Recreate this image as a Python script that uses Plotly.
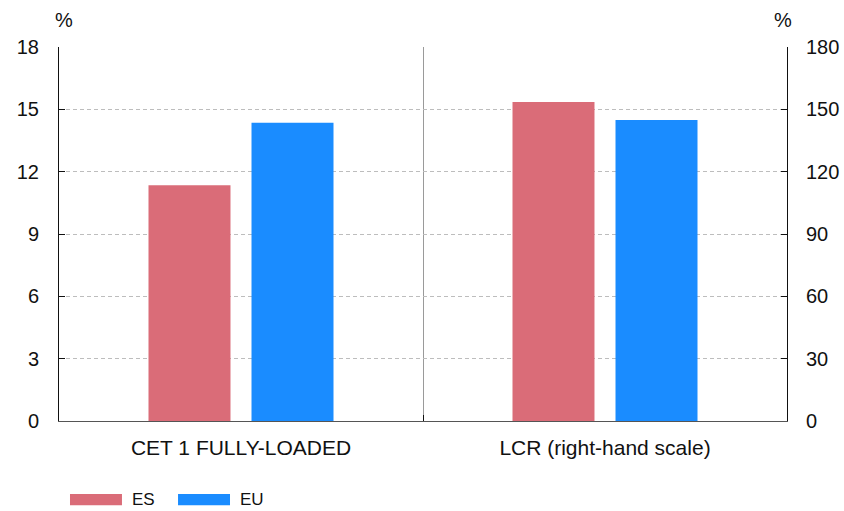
import plotly.graph_objects as go

# Indicators and values (CET1 in %, LCR in % on the right-hand scale)
categories = ["CET 1 FULLY-LOADED", "LCR (right-hand scale)"]
series_names = ["ES", "EU"]
cet1_values = [11.35, 14.35]
lcr_values = [153.5, 144.9]
left_ticks = [0, 3, 6, 9, 12, 15, 18]
right_ticks = [0, 30, 60, 90, 120, 150, 180]

colors = {"ES": "#DA6C78", "EU": "#1A8CFF"}
font_family = "Liberation Sans, Arial, Helvetica, sans-serif"
font_size = 20

fig = go.Figure()
for i, name in enumerate(series_names):
    fig.add_trace(go.Bar(
        x=[categories[0]], y=[cet1_values[i]], name=name,
        marker=dict(color=colors[name], line=dict(width=0)),
        offsetgroup=name, yaxis="y", showlegend=False,
    ))
for i, name in enumerate(series_names):
    fig.add_trace(go.Bar(
        x=[categories[1]], y=[lcr_values[i]], name=name,
        marker=dict(color=colors[name], line=dict(width=0)),
        offsetgroup=name, yaxis="y2", showlegend=False,
    ))

fig.update_layout(
    width=844, height=511,
    margin=dict(l=59, r=57, t=47, b=90, autoexpand=False),
    paper_bgcolor="white", plot_bgcolor="white",
    font=dict(family=font_family, size=font_size, color="#111111"),
    barmode="group", bargap=0.434, bargroupgap=0.204,
    showlegend=False,
    xaxis=dict(
        type="category", categoryorder="array", categoryarray=categories,
        tickson="boundaries", showgrid=True, gridcolor="#9a9a9a", gridwidth=1,
        ticks="inside", ticklen=6, tickcolor="#111111",
        showline=True, linecolor="#555555", linewidth=1, automargin=False,
        tickfont=dict(size=21), ticklabelstandoff=8,
    ),
    yaxis=dict(
        range=[0, 18], tickvals=left_ticks, ticks="inside", ticklen=6,
        tickcolor="#111111", showline=True, linecolor="#111111", linewidth=1,
        showgrid=True, gridcolor="#bdbdbd", griddash="4px,3px", gridwidth=1,
        zeroline=False, tickfont=dict(size=font_size), ticklabelstandoff=15,
        automargin=False,
    ),
    yaxis2=dict(
        range=[0, 180], tickvals=right_ticks, overlaying="y", side="right",
        ticks="inside", ticklen=6, tickcolor="#111111",
        showline=True, linecolor="#111111", linewidth=1,
        showgrid=False, zeroline=False, tickfont=dict(size=font_size),
        ticklabelstandoff=14, automargin=False,
    ),
)

# Unit labels above each value axis
for ux in (0.007, 0.9945):
    fig.add_annotation(text="%", xref="paper", yref="paper", x=ux, y=1.0,
                       xanchor="center", yanchor="middle", yshift=27,
                       showarrow=False, font=dict(size=font_size))

# Legend drawn as wide colour swatches with labels beneath the chart
legend_x = [0.0151, 0.1635]
swatch_w = 0.0714
for lx, name in zip(legend_x, series_names):
    fig.add_shape(type="rect", xref="paper", yref="paper",
                  x0=lx, x1=lx + swatch_w, y0=-0.225, y1=-0.1955,
                  fillcolor=colors[name], line=dict(width=0))
    fig.add_annotation(text=name, xref="paper", yref="paper",
                       x=lx + swatch_w + 0.011, y=-0.21, xanchor="left",
                       yanchor="middle", showarrow=False,
                       font=dict(size=17, family="Liberation Sans Narrow, " + font_family))

fig.write_html("out.html")
